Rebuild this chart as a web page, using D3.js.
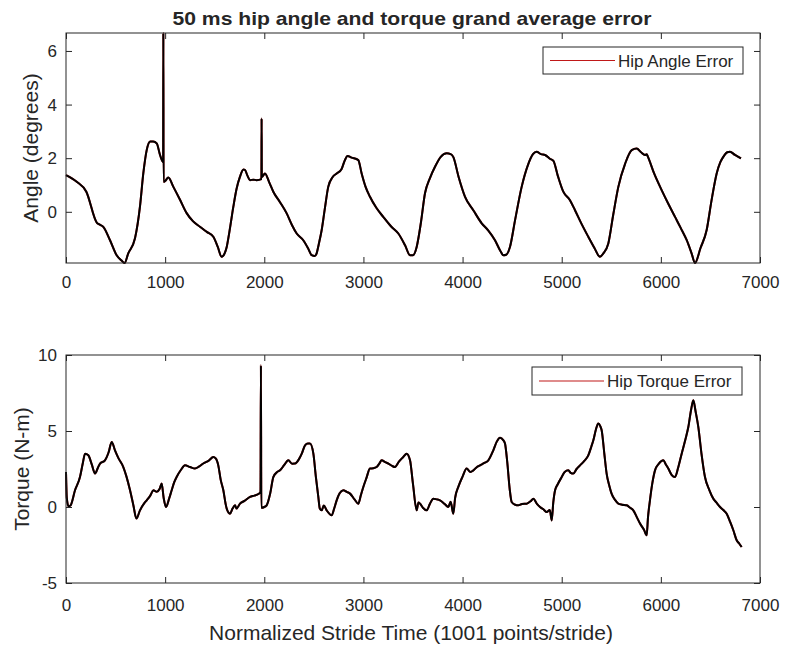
<!DOCTYPE html>
<html>
<head>
<meta charset="utf-8">
<script src="https://cdn.jsdelivr.net/npm/d3@7/dist/d3.min.js"></script>
<style>
  body { margin: 0; background: #fff; }
  svg text { font-family: "Liberation Sans", Arial, Helvetica, sans-serif; fill: #262626; }
</style>
</head>
<body>
<div id="chart"></div>
<script>
// hip angle grand average (degrees) vs normalized stride time
const angleX = [0,108,205,310,340,376,444,511,560,590,628,696,746,780,814,850,880,915,950,980,982,984,1000,1032,1083,1150,1217,1280,1351,1420,1486,1530,1570,1600,1621,1650,1688,1720,1755,1790,1806,1830,1856,1890,1923,1971,1973,1975,2007,2050,2091,2160,2226,2280,2327,2393,2440,2478,2510,2528,2550,2579,2610,2645,2690,2730,2780,2810,2840,2880,2948,2982,3020,3066,3130,3200,3280,3352,3420,3470,3500,3537,3580,3621,3670,3722,3780,3840,3880,3906,3960,4025,4110,4193,4260,4327,4380,4411,4440,4478,4530,4596,4660,4710,4747,4790,4832,4880,4916,4960,5016,5080,5134,5200,5268,5330,5386,5420,5470,5520,5571,5640,5706,5756,5800,5840,5857,5870,5930,6008,6075,6143,6200,6261,6310,6344,6400,6462,6510,6563,6600,6630,6670,6697,6748,6808];
const angleY = [1.37,1.12,0.75,-0.40,-0.48,-0.56,-1.06,-1.62,-1.82,-1.91,-1.55,-0.99,0.19,1.44,2.30,2.62,2.62,2.55,2.10,1.85,6.67,1.12,1.15,1.28,0.93,0.45,-0.05,-0.35,-0.56,-0.75,-0.93,-1.30,-1.68,-1.55,-1.31,-0.70,0.19,0.85,1.31,1.58,1.56,1.35,1.18,1.20,1.18,1.22,3.48,1.30,1.43,1.10,0.75,0.35,-0.06,-0.50,-0.81,-1.06,-1.35,-1.62,-1.65,-1.55,-1.20,-0.68,0.10,0.93,1.30,1.43,1.60,1.90,2.08,2.02,1.93,1.43,0.95,0.56,0.15,-0.19,-0.55,-0.81,-1.25,-1.62,-1.62,-1.31,-0.40,0.69,1.25,1.68,2.05,2.18,2.15,2.05,1.30,0.56,0.05,-0.43,-0.70,-1.06,-1.45,-1.62,-1.60,-1.31,-0.30,0.93,1.75,2.15,2.24,2.15,2.12,1.98,1.90,1.35,0.75,0.45,0.06,-0.45,-0.93,-1.35,-1.68,-1.55,-1.18,-0.10,0.93,1.80,2.30,2.36,2.22,2.12,2.15,2.05,1.45,0.81,0.30,-0.19,-0.60,-1.06,-1.55,-1.91,-1.35,-0.68,0.40,1.43,1.85,2.05,2.22,2.24,2.12,1.99];

// hip torque grand average (N-m)
const torqueX = [0,8,25,45,91,141,170,192,225,260,293,320,343,393,430,461,494,530,578,610,646,680,710,746,790,814,850,881,915,945,965,985,1009,1040,1066,1090,1116,1160,1200,1251,1301,1340,1385,1440,1486,1510,1536,1560,1587,1610,1621,1654,1680,1705,1720,1755,1800,1856,1900,1940,1962,1966,1970,2000,2024,2060,2091,2130,2159,2200,2243,2280,2310,2350,2378,2411,2440,2461,2495,2520,2545,2560,2579,2600,2629,2680,2705,2730,2760,2797,2830,2865,2910,2948,2975,2999,3030,3066,3100,3133,3160,3184,3220,3252,3290,3318,3360,3402,3436,3470,3500,3537,3555,3571,3600,3638,3670,3705,3740,3772,3820,3856,3880,3906,3925,3957,4000,4041,4080,4109,4140,4176,4220,4260,4310,4345,4378,4410,4428,4450,4475,4495,4530,4562,4600,4647,4690,4714,4750,4781,4815,4849,4880,4899,4915,4933,4960,5000,5030,5067,5090,5117,5150,5185,5230,5268,5300,5319,5345,5369,5390,5403,5430,5453,5480,5503,5540,5571,5610,5655,5690,5722,5760,5790,5830,5857,5870,5890,5915,5941,5980,6025,6050,6075,6110,6143,6175,6210,6250,6277,6305,6328,6350,6378,6410,6445,6490,6529,6560,6597,6630,6664,6700,6731,6765,6790,6815];
const torqueY = [2.30,0.60,0.05,0.10,1.10,1.97,2.90,3.51,3.40,2.80,2.20,2.55,2.86,3.07,3.60,4.28,3.73,3.20,2.63,2.00,1.10,0.10,-0.76,-0.22,0.25,0.44,0.75,1.10,1.00,1.20,1.54,0.60,0.00,0.55,1.10,1.60,1.97,2.45,2.74,2.63,2.53,2.65,2.86,3.05,3.29,3.20,2.74,1.80,1.10,0.20,-0.11,-0.44,-0.10,0.11,-0.10,0.22,0.40,0.66,0.75,0.85,0.99,9.32,-0.05,0.00,0.11,0.90,1.97,2.30,2.41,2.75,3.07,2.85,2.86,3.15,3.51,4.06,4.17,4.17,3.51,2.00,0.66,-0.10,-0.22,0.10,-0.22,-0.55,-0.10,0.44,0.90,1.10,1.00,0.88,0.50,0.22,0.80,1.32,1.90,2.53,2.55,2.63,2.85,3.07,2.95,2.86,2.70,2.63,3.00,3.29,3.51,3.07,1.50,-0.22,0.30,0.22,-0.05,-0.22,0.20,0.55,0.50,0.44,0.20,0.00,0.35,-0.44,0.60,1.32,2.00,2.53,2.30,2.41,2.60,2.74,2.90,3.07,3.73,4.30,4.56,4.40,4.17,3.00,1.20,0.33,0.15,0.11,0.20,0.22,0.40,0.55,0.20,0.00,-0.15,-0.33,-0.20,-0.88,0.30,1.10,1.50,1.97,2.30,2.41,2.25,2.20,2.50,2.74,3.05,3.40,4.00,4.39,5.10,5.49,5.30,5.05,3.50,2.20,1.40,0.88,0.45,0.22,0.15,0.11,-0.05,-0.22,-0.70,-1.09,-1.50,-1.86,-0.70,0.44,1.60,2.41,2.85,3.07,2.80,2.53,2.10,1.97,2.60,3.51,4.50,5.26,6.40,7.02,6.30,5.26,3.50,1.97,1.10,0.55,0.30,0.00,-0.20,-0.44,-1.00,-1.53,-2.19,-2.40,-2.63];

const xTicks = [0, 1000, 2000, 3000, 4000, 5000, 6000, 7000];
const angleTicks = [0, 2, 4, 6];
const torqueTicks = [-5, 0, 5, 10];

const width = 785;
const height = 647;
const axColor = '#262626';
const errColor = '#c01818';
const plain = (d) => String(d); // matlab style labels: no thousands comma, ascii minus

const svg = d3.select('#chart').append('svg').attr('width', width).attr('height', height);

function drawPanel(opts) {
  const { top, bottom, xVals, yVals, yDomain, yTicks, yLabel, yLabelX, legend, legendBox, xPad } = opts;
  const x = d3.scaleLinear().domain([0, 7000]).range([66, 760]);
  const y = d3.scaleLinear().domain(yDomain).range([bottom, top]);
  const g = svg.append('g');

  const pts = xVals.map((v, i) => [v, yVals[i]]);
  const line = d3.line().curve(d3.curveMonotoneX).x((d) => x(d[0])).y((d) => y(d[1]));

  // red error trace underneath, grand average on top
  g.append('path').datum(pts).attr('d', line)
    .attr('fill', 'none').attr('stroke', errColor).attr('stroke-width', 2).attr('stroke-linejoin', 'round');
  g.append('path').datum(pts).attr('d', line)
    .attr('fill', 'none').attr('stroke', '#000').attr('stroke-width', 2).attr('stroke-linejoin', 'round');

  const fontSize = '17px';
  const ax = (sel) => {
    sel.select('.domain').remove();
    sel.selectAll('line').attr('stroke', axColor);
    sel.selectAll('text').attr('font-size', fontSize).attr('fill', axColor);
  };

  g.append('g').attr('transform', `translate(0,${bottom})`)
    .call(d3.axisBottom(x).tickValues(xTicks).tickSize(-6).tickPadding(xPad).tickFormat(plain)).call(ax);
  g.append('g').attr('transform', `translate(0,${top})`)
    .call(d3.axisTop(x).tickValues(xTicks).tickSize(-6).tickFormat('')).call(ax);
  g.append('g').attr('transform', 'translate(66,0)')
    .call(d3.axisLeft(y).tickValues(yTicks).tickSize(-6).tickPadding(9).tickFormat(plain)).call(ax);
  g.append('g').attr('transform', 'translate(760,0)')
    .call(d3.axisRight(y).tickValues(yTicks).tickSize(-6).tickFormat('')).call(ax);

  g.append('rect').attr('x', 66).attr('y', top).attr('width', 694).attr('height', bottom - top)
    .attr('fill', 'none').attr('stroke', axColor).attr('stroke-width', 1);

  g.append('text')
    .attr('transform', `translate(${yLabelX},${(top + bottom) / 2}) rotate(-90)`)
    .attr('text-anchor', 'middle').attr('font-size', '21px').text(yLabel);

  // legend
  const lg = g.append('g');
  lg.append('rect').attr('x', legendBox.x).attr('y', legendBox.y).attr('width', legendBox.w).attr('height', legendBox.h)
    .attr('fill', '#fff').attr('stroke', axColor).attr('stroke-width', 1);
  const cy = legendBox.y + legendBox.h / 2;
  lg.append('line').attr('x1', legendBox.x + 7).attr('x2', legendBox.x + 72).attr('y1', cy).attr('y2', cy)
    .attr('stroke', errColor).attr('stroke-width', 1.2);
  lg.append('text').attr('x', legendBox.x + 75).attr('y', cy + 6).attr('font-size', fontSize).text(legend);
}

drawPanel({
  top: 33, bottom: 263, xVals: angleX, yVals: angleY,
  yDomain: d3.extent(angleY), yTicks: angleTicks,
  yLabel: 'Angle (degrees)', yLabelX: 38, xPad: 13,
  legend: 'Hip Angle Error', legendBox: { x: 543, y: 47, w: 200, h: 27 }
});

drawPanel({
  top: 355, bottom: 583, xVals: torqueX, yVals: torqueY,
  yDomain: [-5, 10], yTicks: torqueTicks,
  yLabel: 'Torque (N-m)', yLabelX: 29, xPad: 16,
  legend: 'Hip Torque Error', legendBox: { x: 532, y: 367, w: 210, h: 28 }
});

svg.append('text').attr('x', 412).attr('y', 25).attr('text-anchor', 'middle')
  .attr('font-size', '19px').attr('font-weight', 'bold')
  .attr('textLength', 479).attr('lengthAdjust', 'spacingAndGlyphs')
  .text('50 ms hip angle and torque grand average error');

svg.append('text').attr('x', 411).attr('y', 640).attr('text-anchor', 'middle')
  .attr('font-size', '21px').text('Normalized Stride Time (1001 points/stride)');
</script>
</body>
</html>
